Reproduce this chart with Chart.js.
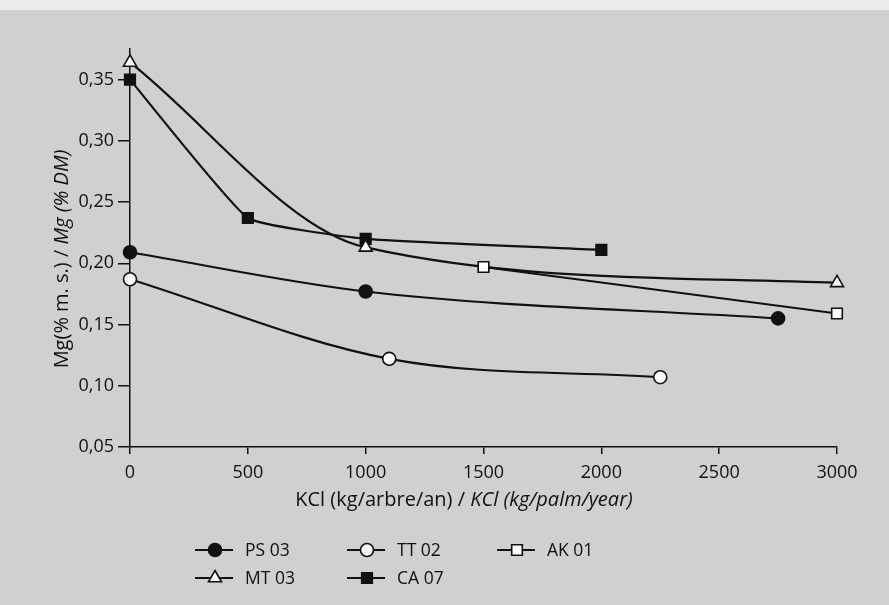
<!DOCTYPE html>
<html>
<head>
<meta charset="utf-8">
<script src="https://cdn.jsdelivr.net/npm/chart.js@4"></script>
<style>
  html, body { margin: 0; padding: 0; background: #d0d0d0; }
</style>
</head>
<body>
<canvas id="chart" width="889" height="605"></canvas>
<script>
// KCl dose (kg/palm/year) and leaf Mg (% DM), one pair of arrays per trial
const psX = [0, 1000, 2750];
const psY = [0.209, 0.177, 0.155];
const ttX = [0, 1100, 2250];
const ttY = [0.187, 0.122, 0.107];
const akX = [1500, 3000];
const akY = [0.197, 0.159];
const mtX = [0, 1000, 3000];
const mtY = [0.364, 0.213, 0.184];
const caX = [0, 500, 1000, 2000];
const caY = [0.350, 0.237, 0.220, 0.211];

const xTicks = [0, 500, 1000, 1500, 2000, 2500, 3000];
const yTicks = [0.05, 0.10, 0.15, 0.20, 0.25, 0.30, 0.35];

const FONT = "'Open Sans', 'Noto Sans', sans-serif";
const INK = '#111';

function pts(xs, ys) {
    return xs.map((x, i) => ({ x: x, y: ys[i] }));
}

function series(label, xs, ys, style, filled, radius, tension) {
    const ds = {
        label: label,
        data: pts(xs, ys),
        borderColor: INK,
        borderWidth: 2.2,
        pointStyle: style,
        pointRadius: radius,
        pointBorderWidth: 1.6,
        pointBorderColor: INK,
        pointBackgroundColor: filled ? INK : '#fff',
        clip: false
    };
    if (tension) {
        ds.tension = tension;
    } else {
        ds.cubicInterpolationMode = 'monotone';
    }
    return ds;
}

// legend drawn under the plot, two rows, line + marker + label
const legendSpots = [
    [195, 550], [347, 550], [497, 550],
    [195, 578], [347, 578]
];

const decor = {
    id: 'decor',
    beforeDraw(chart) {
        const ctx = chart.ctx;
        ctx.save();
        ctx.fillStyle = '#d0d0d0';
        ctx.fillRect(0, 0, chart.width, chart.height);
        ctx.fillStyle = '#ececec';
        ctx.fillRect(0, 0, chart.width, 10);
        ctx.restore();
    },
    afterDraw(chart) {
        const ctx = chart.ctx;
        ctx.save();
        ctx.fillStyle = INK;
        ctx.textBaseline = 'middle';

        // x axis title
        const xa = 'KCl (kg/arbre/an) / ', xb = 'KCl (kg/palm/year)';
        ctx.font = '20px ' + FONT;
        const wa = ctx.measureText(xa).width;
        ctx.font = 'italic 20px ' + FONT;
        const wb = ctx.measureText(xb).width;
        let sx = 464 - (wa + wb) / 2;
        ctx.textAlign = 'left';
        ctx.font = '20px ' + FONT;
        ctx.fillText(xa, sx, 500);
        ctx.font = 'italic 20px ' + FONT;
        ctx.fillText(xb, sx + wa, 500);

        // y axis title, rotated
        const ya = 'Mg(% m. s.) / ', yb = 'Mg (% DM)';
        ctx.font = '20px ' + FONT;
        const ha = ctx.measureText(ya).width;
        ctx.font = 'italic 20px ' + FONT;
        const hb = ctx.measureText(yb).width;
        ctx.translate(62, 259);
        ctx.rotate(-Math.PI / 2);
        sx = -(ha + hb) / 2;
        ctx.font = '20px ' + FONT;
        ctx.fillText(ya, sx, 0);
        ctx.font = 'italic 20px ' + FONT;
        ctx.fillText(yb, sx + ha, 0);
        ctx.setTransform(1, 0, 0, 1, 0, 0);

        // legend
        chart.data.datasets.forEach((ds, i) => {
            const [lx, ly] = legendSpots[i];
            ctx.strokeStyle = INK;
            ctx.lineWidth = 2.2;
            ctx.beginPath();
            ctx.moveTo(lx, ly);
            ctx.lineTo(lx + 38, ly);
            ctx.stroke();
            ctx.fillStyle = ds.pointBackgroundColor;
            ctx.strokeStyle = INK;
            ctx.lineWidth = ds.pointBorderWidth;
            Chart.helpers.drawPoint(ctx, {
                pointStyle: ds.pointStyle,
                radius: ds.pointRadius,
                borderWidth: ds.pointBorderWidth,
                rotation: 0
            }, lx + 20, ly);
            ctx.fillStyle = INK;
            ctx.font = '17.5px ' + FONT;
            ctx.textAlign = 'left';
            ctx.fillText(ds.label, lx + 50, ly + 1);
        });
        ctx.restore();
    }
};

new Chart(document.getElementById('chart'), {
    type: 'line',
    data: {
        datasets: [
            series('PS 03', psX, psY, 'circle', true, 6.5),
            series('TT 02', ttX, ttY, 'circle', false, 6.5),
            series('AK 01', akX, akY, 'rect', false, 7.5),
            series('MT 03', mtX, mtY, 'triangle', false, 7.5),
            series('CA 07', caX, caY, 'rect', true, 7.5, 0.12)
        ]
    },
    options: {
        responsive: false,
        animation: false,
        devicePixelRatio: 1,
        layout: {
            padding: { top: 49, right: 52, left: 0, bottom: 0 }
        },
        plugins: {
            legend: { display: false },
            tooltip: { enabled: false }
        },
        scales: {
            x: {
                type: 'linear',
                min: 0,
                max: 3000,
                afterBuildTicks: s => { s.ticks = xTicks.map(v => ({ value: v })); },
                afterFit: s => { s.height = 158; },
                ticks: {
                    color: INK,
                    font: { family: FONT, size: 18 },
                    padding: 8,
                    maxRotation: 0,
                    callback: v => String(v)
                },
                grid: { drawOnChartArea: false, drawTicks: true, tickLength: 7, color: INK, lineWidth: 1.5 },
                border: { display: true, color: INK, width: 1.5 }
            },
            y: {
                type: 'linear',
                min: 0.05,
                max: 0.375,
                afterBuildTicks: s => { s.ticks = yTicks.map(v => ({ value: v })); },
                afterFit: s => { s.width = 130; },
                ticks: {
                    color: INK,
                    font: { family: FONT, size: 18 },
                    padding: 4,
                    callback: v => v.toFixed(2).replace('.', ',')
                },
                grid: { drawOnChartArea: false, drawTicks: true, tickLength: 12, color: INK, lineWidth: 1.5 },
                border: { display: true, color: INK, width: 1.5 }
            }
        }
    },
    plugins: [decor]
});
</script>
</body>
</html>
